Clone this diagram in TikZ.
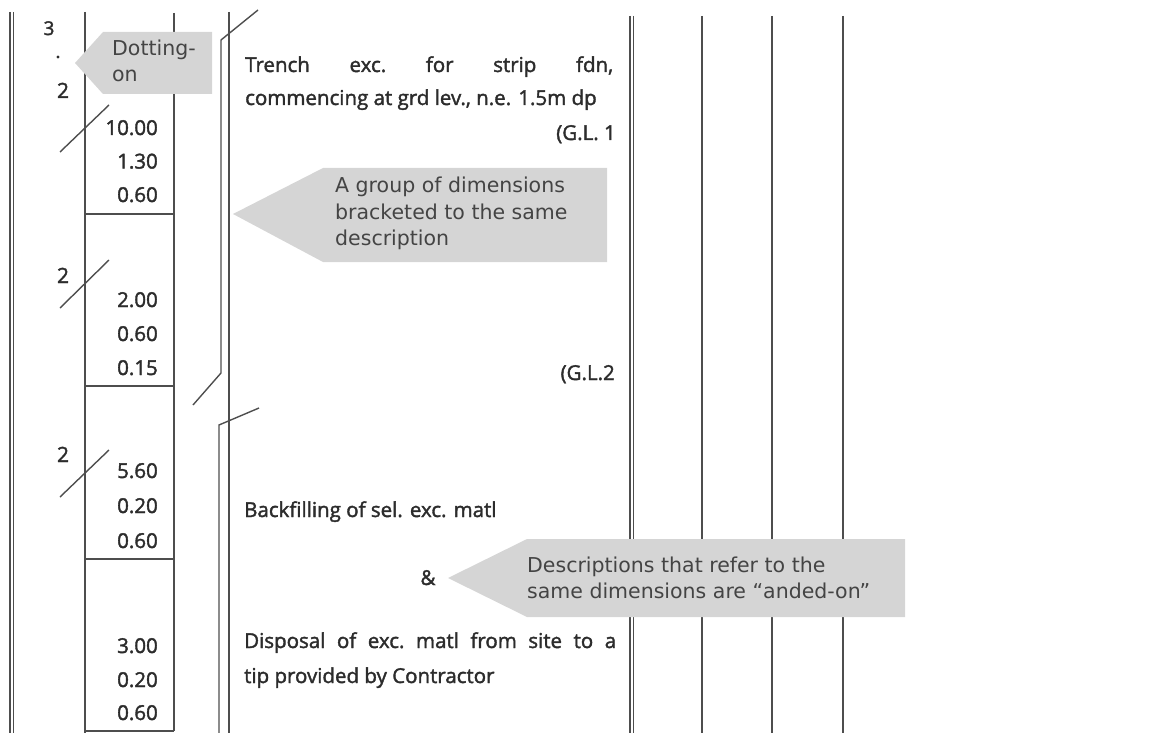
\documentclass[tikz,border=0pt]{standalone}
\usepackage{fontspec}
\setmainfont{Open Sans}[FakeBold=1.8]
\newfontfamily\calfont{DejaVu Sans}
\definecolor{ln}{HTML}{4E4E4E}
\definecolor{cgray}{HTML}{D5D5D5}
\definecolor{ctxt}{HTML}{444444}
\definecolor{dtxt}{HTML}{2C2C2C}
\begin{document}
\begin{tikzpicture}[x=1pt,y=-1pt,
  rule/.style={draw=ln, line width=1.4pt},
  callout/.style={fill=cgray},
  ctext/.style={font=\calfont\fontsize{20.5}{26}\selectfont, text=ctxt, anchor=base west, inner sep=0pt},
  dim/.style={font=\fontsize{20.5}{24}\selectfont, text=dtxt, anchor=base east, inner sep=0pt},
  tim/.style={font=\fontsize{21}{22}\selectfont, text=dtxt, anchor=base, inner sep=0pt},
  desc/.style={font=\fontsize{20.5}{24}\selectfont, text=dtxt, anchor=base west, inner sep=0pt},
  descr/.style={desc, anchor=base east},
]
\useasboundingbox (0,0) rectangle (1162,733);

% ruling
\draw[rule] (10,12) -- (10,733);
\draw[rule] (13.5,12) -- (13.5,733);
\draw[rule] (85,12) -- (85,733);
\draw[rule] (174,13) -- (174,731);
\foreach \y in {214,386,559,731} \draw[rule] (85,\y) -- (174,\y);
\draw[rule] (229,12) -- (229,733);
\draw[rule] (258,10) -- (221,40) -- (221,373) -- (193,405);
\draw[rule] (259,408) -- (219,425) -- (219,733);
\draw[rule] (630,16) -- (630,733);
\draw[rule] (633.5,16) -- (633.5,733);
\foreach \x in {702,772,843} \draw[rule] (\x,16) -- (\x,733);

% callouts
\fill[callout] (75,63) -- (103,32) -- (212,32) -- (212,94) -- (103,94) -- cycle;
\fill[callout] (233,214) -- (323,168) -- (607,168) -- (607,262) -- (323,262) -- cycle;
\fill[callout] (448,578) -- (527,539) -- (905,539) -- (905,617) -- (527,617) -- cycle;

\node[ctext] (c1a) at (112,56) {Dotting-};
\node[ctext] (c1b) at (112,82) {on};
\node[ctext] (c2a) at (335,193) {A group of dimensions};
\node[ctext] (c2b) at (335,219) {bracketed to the same};
\node[ctext] (c2c) at (335,245) {description};
\node[ctext] (c3a) at (527,572) {Descriptions that refer to the};
\node[ctext] (c3b) at (527,598) {same dimensions are \textquotedblleft anded-on\textquotedblright};

% timesing column
\node[tim, font=\fontsize{19}{20}\selectfont] (t3) at (49,35) {3};
\fill[dtxt] (58,57) circle (1.6);
\node[tim] (t2a) at (63,98) {2};
\node[tim] (t2b) at (63,283) {2};
\node[tim] (t2c) at (63,462) {2};
\draw[rule] (60,152) -- (109,105);
\draw[rule] (60,308) -- (109,260);
\draw[rule] (60,497) -- (109,450);

% dimensions
\node[dim] (d1) at (158,135) {10.00};
\node[dim] (d2) at (158,168.5) {1.30};
\node[dim] (d3) at (158,202) {0.60};
\node[dim] (d4) at (158,307) {2.00};
\node[dim] (d5) at (158,341) {0.60};
\node[dim] (d6) at (158,375) {0.15};
\node[dim] (d7) at (158,478) {5.60};
\node[dim] (d8) at (158,513) {0.20};
\node[dim] (d9) at (158,548) {0.60};
\node[dim] (d10) at (158,653) {3.00};
\node[dim] (d11) at (158,687) {0.20};
\node[dim] (d12) at (158,720) {0.60};

% descriptions
\node[desc] (e1) at (245,72) {\hbox to 368pt{Trench\hfill exc.\hfill for\hfill strip\hfill fdn,}};
\node[desc] (e2) at (245,105) {commencing at grd lev., n.e. 1.5m dp};
\node[descr] (g1) at (616,140) {(G.L. 1};
\node[descr] (g2) at (615,380) {(G.L.2};
\node[desc] (e3) at (244,517) {Backfilling of sel. exc. matl};
\node[desc, anchor=base] (amp) at (428,585) {\&};
\node[desc] (e4) at (244,648) {\hbox to 372pt{Disposal\hfill of\hfill exc.\hfill matl\hfill from\hfill site\hfill to\hfill a}};
\node[desc] (e5) at (244,683) {tip provided by Contractor};
\end{tikzpicture}
\end{document}
